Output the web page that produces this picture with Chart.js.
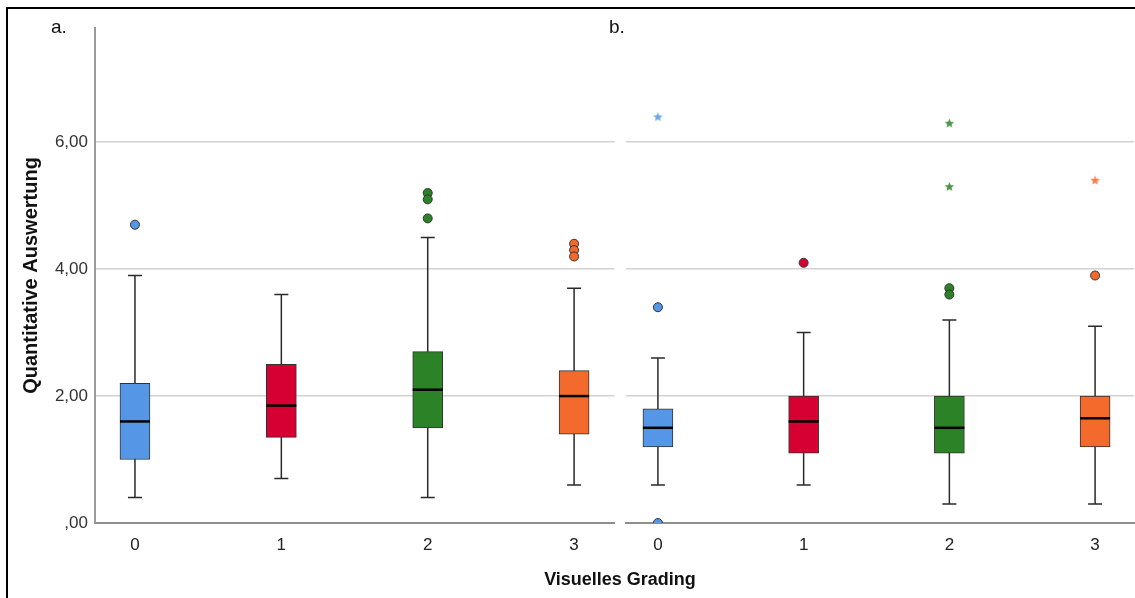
<!DOCTYPE html>
<html>
<head>
<meta charset="utf-8">
<script src="https://cdn.jsdelivr.net/npm/chart.js@4/dist/chart.umd.min.js"></script>
<style>
  body { margin: 0; width: 1135px; height: 598px; background: #fff; overflow: hidden; position: relative; font-family: "Liberation Sans", Arial, sans-serif; }
  .frame { position: absolute; left: 6px; top: 7px; width: 1300px; height: 700px; border-top: 2px solid #000; border-left: 2px solid #000; }
  canvas { position: absolute; top: 0; }
  #chart-a { left: 0; }
  #chart-b { left: 620px; }
  .lbl { position: absolute; font-size: 19px; color: #111; }
  .xtitle { position: absolute; left: 0; width: 1240px; top: 569px; text-align: center; font-weight: bold; font-size: 18px; color: #111; }
</style>
</head>
<body>
<div class="frame"></div>
<canvas id="chart-a" width="620" height="598"></canvas>
<canvas id="chart-b" width="520" height="598"></canvas>
<div class="lbl" style="left:51px; top:16px;">a.</div>
<div class="lbl" style="left:609px; top:16px;">b.</div>
<div class="xtitle">Visuelles Grading</div>
<script>
// Categories and tick labels
const categories = ["0", "1", "2", "3"];
const yTicks = [0, 2, 4, 6];

// Panel a. box statistics
const lowA = [0.4, 0.7, 0.4, 0.6];
const q1A = [1.0, 1.35, 1.5, 1.4];
const medA = [1.6, 1.85, 2.1, 2.0];
const q3A = [2.2, 2.5, 2.7, 2.4];
const highA = [3.9, 3.6, 4.5, 3.7];
const outliersA = [[4.7], [], [5.2, 5.1, 4.8], [4.4, 4.3, 4.2]];
const extremesA = [[], [], [], []];

// Panel b. box statistics
const lowB = [0.6, 0.6, 0.3, 0.3];
const q1B = [1.2, 1.1, 1.1, 1.2];
const medB = [1.5, 1.6, 1.5, 1.65];
const q3B = [1.8, 2.0, 2.0, 2.0];
const highB = [2.6, 3.0, 3.2, 3.1];
const outliersB = [[3.4, 0.0], [4.1], [3.7, 3.6], [3.9]];
const extremesB = [[6.4], [], [6.3, 5.3], [5.4]];

const boxColors = ['#5597E6', '#D70033', '#2B8227', '#F36A2C'];
const fontFamily = '"Liberation Sans", Arial, sans-serif';

function fmtTick(v) {
    let s = v.toFixed(2).replace('.', ',');
    return s.startsWith('0') ? s.slice(1) : s;
}

// small filled 5-point star used as point style for extreme values
function starImage(color) {
    const c = document.createElement('canvas');
    c.width = 11; c.height = 11;
    const g = c.getContext('2d');
    g.beginPath();
    for (let k = 0; k < 10; k++) {
        const r = k % 2 === 0 ? 5 : 2.2;
        const a = -Math.PI / 2 + k * Math.PI / 5;
        g.lineTo(5.5 + r * Math.cos(a), 5.8 + r * Math.sin(a));
    }
    g.closePath();
    g.globalAlpha = 0.85;
    g.fillStyle = color;
    g.fill();
    return c;
}

// whiskers behind the boxes, medians on top
const boxPlugin = {
    id: 'boxWhiskers',
    beforeDatasetsDraw(chart, args, opts) {
        const {ctx, scales: {x, y}} = chart;
        ctx.save();
        ctx.strokeStyle = '#2a2a2a';
        ctx.lineWidth = 1.5;
        opts.low.forEach((lo, i) => {
            const px = x.getPixelForValue(i);
            const yLo = y.getPixelForValue(lo);
            const yHi = y.getPixelForValue(opts.high[i]);
            ctx.beginPath();
            ctx.moveTo(px, yLo); ctx.lineTo(px, yHi);
            ctx.moveTo(px - 7, yLo); ctx.lineTo(px + 7, yLo);
            ctx.moveTo(px - 7, yHi); ctx.lineTo(px + 7, yHi);
            ctx.stroke();
        });
        ctx.restore();
    },
    afterDatasetsDraw(chart, args, opts) {
        const {ctx, scales: {x, y}} = chart;
        ctx.save();
        ctx.strokeStyle = '#000';
        ctx.lineWidth = 2.5;
        opts.med.forEach((m, i) => {
            const px = x.getPixelForValue(i);
            const py = y.getPixelForValue(m);
            ctx.beginPath();
            ctx.moveTo(px - 15, py); ctx.lineTo(px + 15, py);
            ctx.stroke();
        });
        ctx.restore();
    }
};

function makePanel(canvasId, st, showY) {
    const circles = [], circleColors = [], stars = [], starStyles = [];
    st.out.forEach((vals, i) => vals.forEach(v => { circles.push({x: i, y: v}); circleColors.push(boxColors[i]); }));
    st.ext.forEach((vals, i) => vals.forEach(v => { stars.push({x: i, y: v}); starStyles.push(starImage(boxColors[i])); }));

    return new Chart(document.getElementById(canvasId), {
        type: 'bar',
        data: {
            datasets: [{
                data: categories.map((c, i) => ({x: i, y: [st.q1[i], st.q3[i]]})),
                backgroundColor: boxColors,
                borderColor: '#333',
                borderWidth: 1,
                borderSkipped: false,
                barThickness: 30
            }, {
                type: 'scatter',
                data: circles,
                pointStyle: 'circle',
                pointRadius: 4.5,
                pointBackgroundColor: circleColors,
                pointBorderColor: '#333',
                pointBorderWidth: 1
            }, {
                type: 'scatter',
                data: stars,
                pointStyle: starStyles,
                pointRadius: 5
            }]
        },
        options: {
            responsive: false,
            animation: false,
            layout: { padding: showY ? {top: 28, right: 5, left: 0, bottom: 0} : {top: 28, right: 0, left: 6, bottom: 0} },
            scales: {
                x: {
                    type: 'linear',
                    offset: false,
                    min: showY ? -0.273 : -0.219,
                    max: showY ? 3.276 : 3.267,
                    afterBuildTicks: s => { s.ticks = categories.map((c, i) => ({value: i})); },
                    afterFit: s => { s.height = 75; },
                    grid: { display: false, drawTicks: false, offset: false },
                    border: { display: true, color: '#8e8e8e', width: 2 },
                    ticks: {
                        padding: 12,
                        maxRotation: 0,
                        color: '#222',
                        font: { family: fontFamily, size: 17 },
                        callback: v => categories[v]
                    }
                },
                y: {
                    min: 0,
                    max: 7.8,
                    afterBuildTicks: s => { s.ticks = yTicks.map(v => ({value: v})); },
                    afterFit: s => { s.width = showY ? 95 : 0; },
                    grid: {
                        drawTicks: false,
                        lineWidth: 1.5,
                        color: c => c.tick && c.tick.value === 0 ? 'rgba(0,0,0,0)' : '#d2d2d2'
                    },
                    border: { display: showY, color: '#9a9a9a', width: 2 },
                    ticks: {
                        display: showY,
                        padding: 7,
                        color: '#333',
                        font: { family: fontFamily, size: 17 },
                        callback: v => fmtTick(v)
                    },
                    title: {
                        display: showY,
                        text: 'Quantitative Auswertung',
                        color: '#111',
                        padding: { top: 19, bottom: 0 },
                        font: { family: fontFamily, size: 20, weight: 'bold' }
                    }
                }
            },
            plugins: {
                legend: { display: false },
                tooltip: { enabled: false },
                boxWhiskers: { low: st.low, high: st.high, med: st.med }
            }
        },
        plugins: [boxPlugin]
    });
}

let chartA = makePanel('chart-a', {low: lowA, q1: q1A, med: medA, q3: q3A, high: highA, out: outliersA, ext: extremesA}, true);
let chartB = makePanel('chart-b', {low: lowB, q1: q1B, med: medB, q3: q3B, high: highB, out: outliersB, ext: extremesB}, false);
</script>
</body>
</html>
